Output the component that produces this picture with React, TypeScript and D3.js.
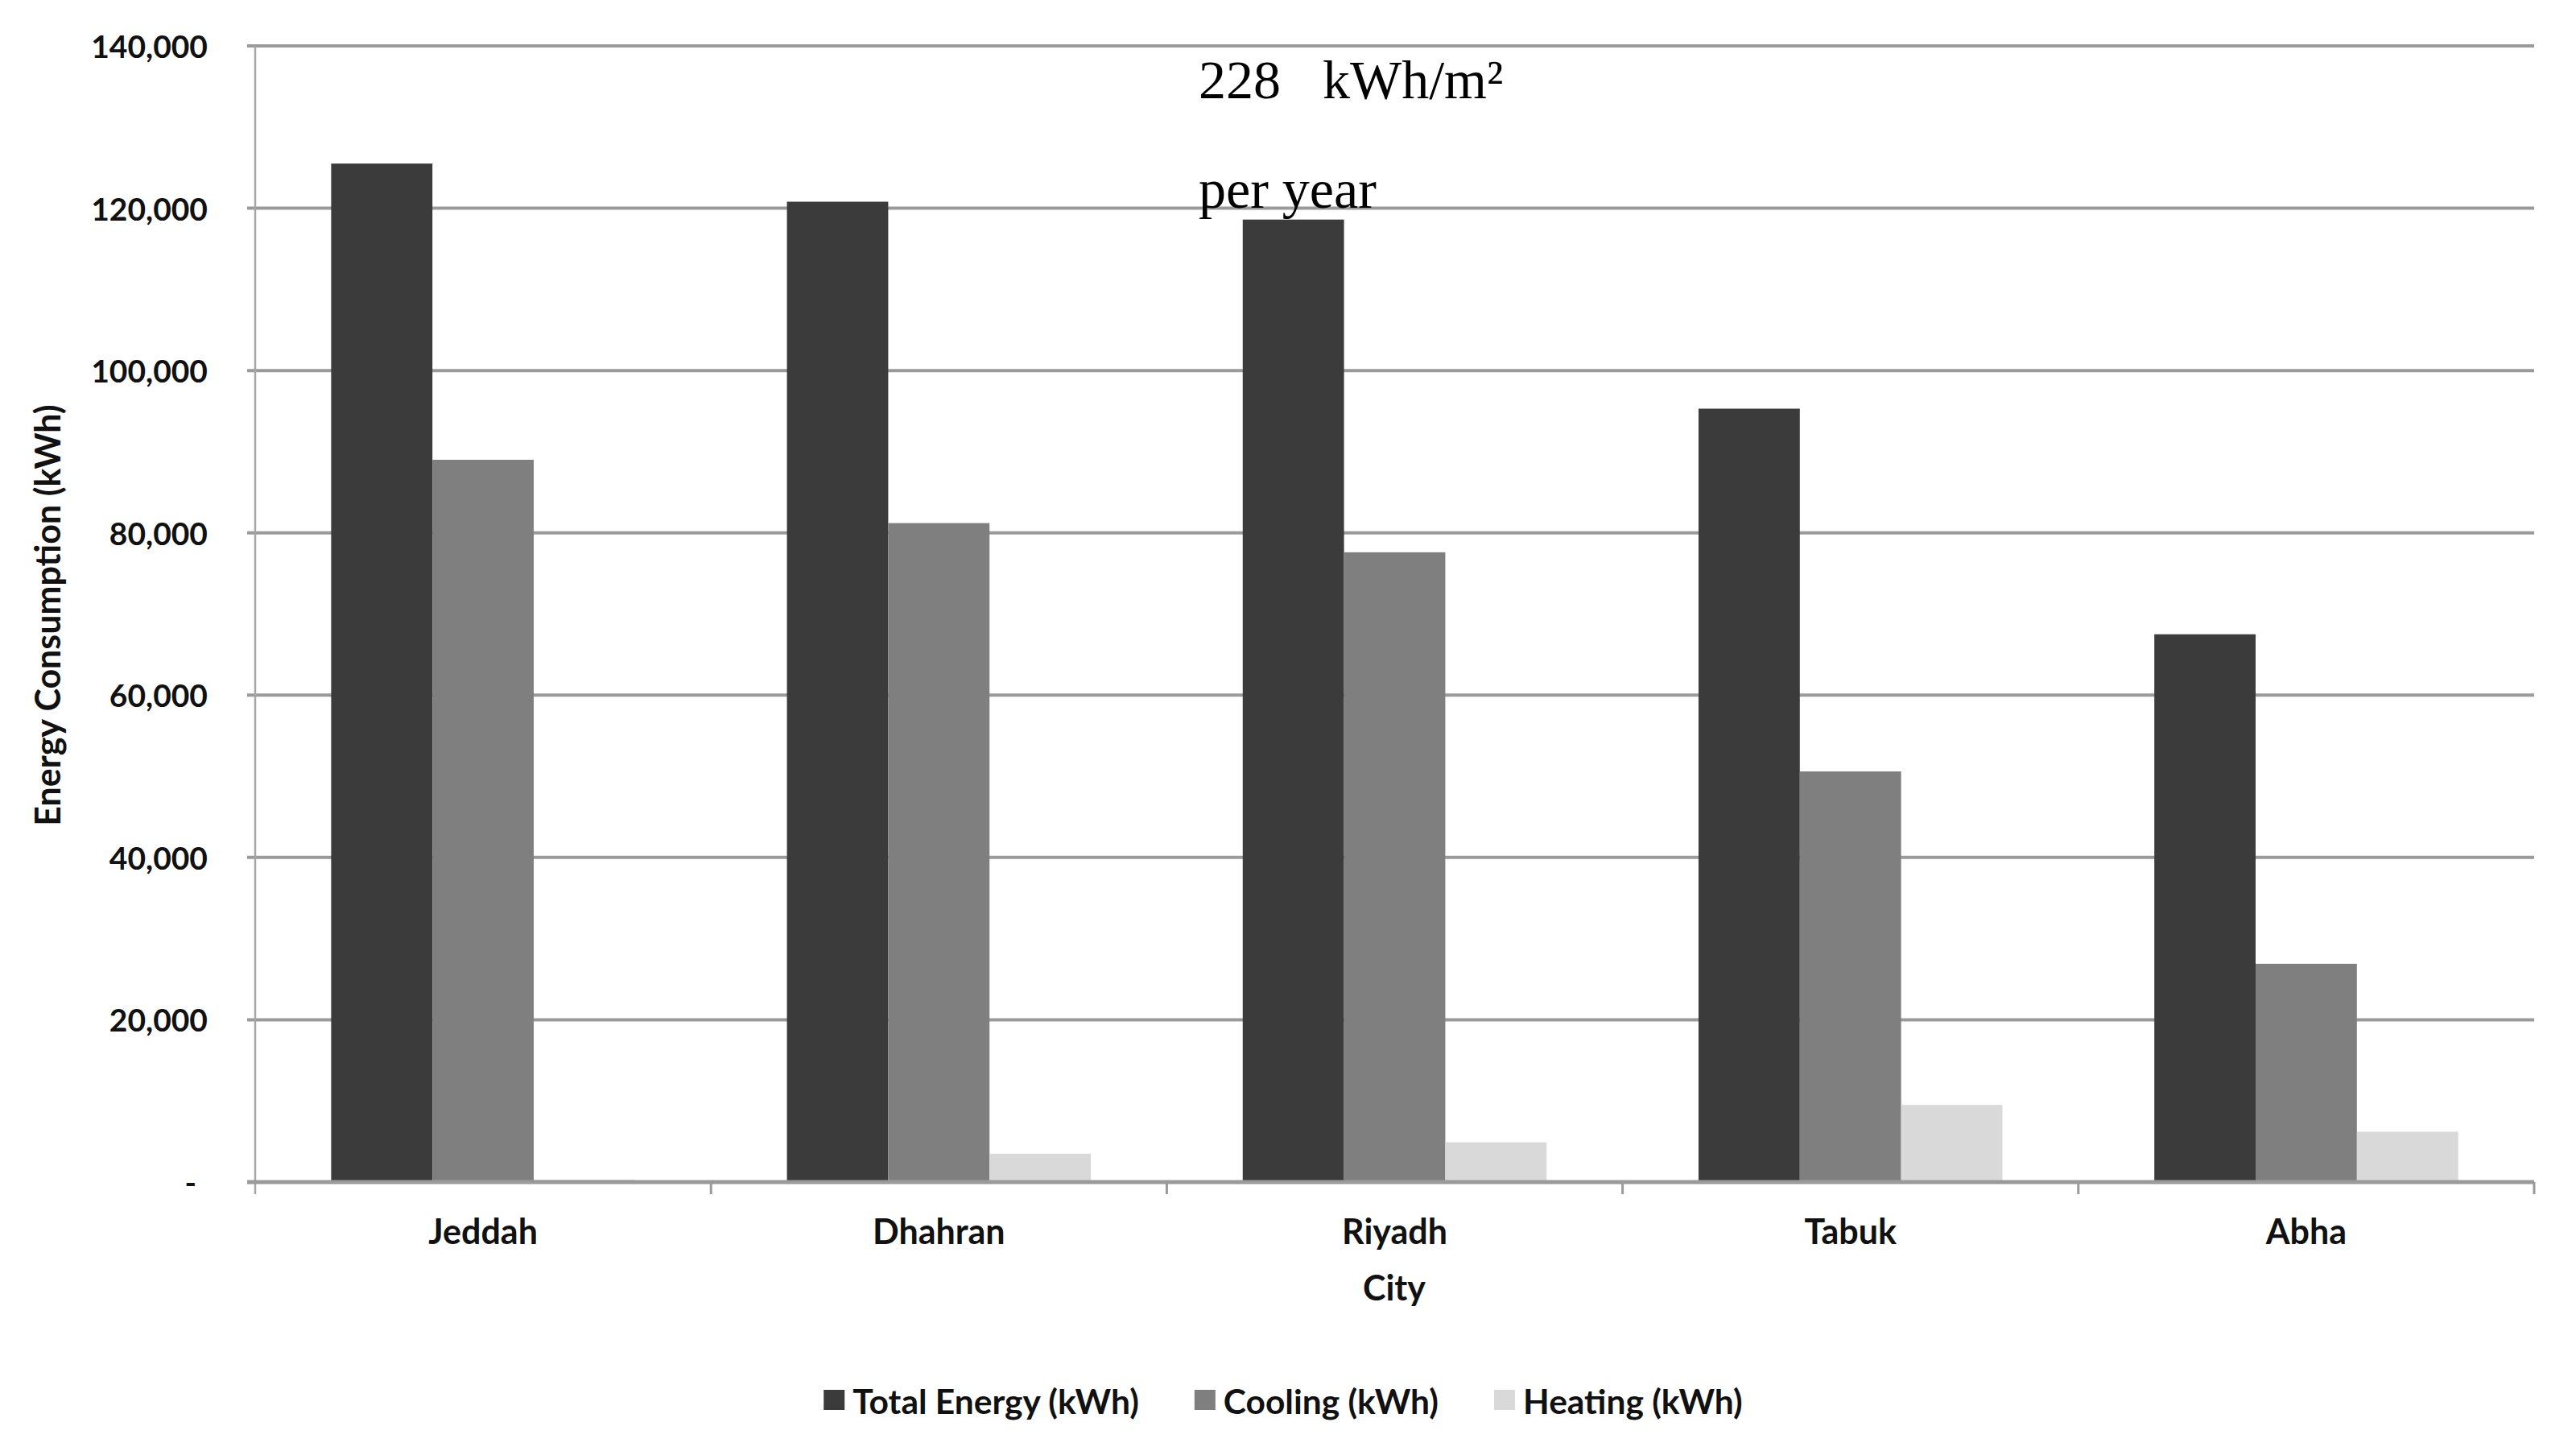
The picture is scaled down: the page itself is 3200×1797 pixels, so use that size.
import { useEffect, useRef } from 'react';
import * as d3 from 'd3';

// chart data (kWh)
const cities = ['Jeddah', 'Dhahran', 'Riyadh', 'Tabuk', 'Abha'];
const totalEnergy = [125500, 120800, 118600, 95300, 67500];
const cooling = [89000, 81200, 77600, 50600, 26900];
const heating = [300, 3500, 4900, 9500, 6200];

const seriesNames = ['Total Energy (kWh)', 'Cooling (kWh)', 'Heating (kWh)'];
const seriesColors = ['#3b3b3b', '#7f7f7f', '#d9d9d9'];
const yTicks = [0, 20000, 40000, 60000, 80000, 100000, 120000, 140000];

const W = 3200;
const H = 1797;
const FONT = 'Lato, "Open Sans", sans-serif';

function Chart() {
  const ref = useRef<SVGSVGElement>(null);

  useEffect(() => {
    if (!ref.current) return;
    document.body.style.margin = '0';

    const svg = d3.select(ref.current);
    svg.selectAll('*').remove();

    const left = 317;
    const right = 3148;
    const top = 57;
    const bottom = 1468;

    const x = d3.scaleBand<string>().domain(cities).range([left, right]);
    const x1 = d3.scaleBand<string>()
      .domain(seriesNames)
      .range([0, x.bandwidth()])
      .paddingInner(0)
      .paddingOuter(0.75);
    const y = d3.scaleLinear().domain([0, 140000]).range([bottom, top]);

    svg.append('rect').attr('width', W).attr('height', H).attr('fill', '#fff');

    // gridlines
    svg.append('g')
      .selectAll('line')
      .data(yTicks.filter(d => d > 0))
      .enter()
      .append('line')
      .attr('x1', left - 10)
      .attr('x2', right)
      .attr('y1', d => y(d))
      .attr('y2', d => y(d))
      .attr('stroke', '#9a9a9a')
      .attr('stroke-width', 4);

    // y tick labels
    svg.append('g')
      .selectAll('text')
      .data(yTicks)
      .enter()
      .append('text')
      .attr('x', d => (d === 0 ? 244 : 258))
      .attr('y', d => y(d) + 15)
      .attr('text-anchor', 'end')
      .attr('font-family', FONT)
      .attr('font-weight', 700)
      .attr('font-size', 39)
      .attr('fill', '#111')
      .text(d => (d === 0 ? '-' : d3.format(',')(d)));

    // bars
    const table = cities.map((c, i) => ({
      city: c,
      values: [totalEnergy[i], cooling[i], heating[i]],
    }));

    const groups = svg.append('g')
      .selectAll('g')
      .data(table)
      .enter()
      .append('g')
      .attr('transform', d => `translate(${x(d.city)},0)`);

    groups.selectAll('rect')
      .data(d => d.values.map((v, j) => ({ name: seriesNames[j], value: v, color: seriesColors[j] })))
      .enter()
      .append('rect')
      .attr('x', d => x1(d.name) || 0)
      .attr('y', d => y(d.value))
      .attr('width', x1.bandwidth())
      .attr('height', d => bottom - y(d.value))
      .attr('fill', d => d.color);

    // axes lines
    svg.append('line')
      .attr('x1', left)
      .attr('x2', left)
      .attr('y1', top)
      .attr('y2', bottom + 15)
      .attr('stroke', '#a6a6a6')
      .attr('stroke-width', 2.5);

    svg.append('line')
      .attr('x1', left - 10)
      .attr('x2', right)
      .attr('y1', bottom)
      .attr('y2', bottom)
      .attr('stroke', '#9a9a9a')
      .attr('stroke-width', 5);

    // category ticks
    const bounds = cities.map(c => (x(c) || 0) + x.bandwidth());
    svg.append('g')
      .selectAll('line')
      .data(bounds)
      .enter()
      .append('line')
      .attr('x1', d => d)
      .attr('x2', d => d)
      .attr('y1', bottom)
      .attr('y2', bottom + 15)
      .attr('stroke', '#9a9a9a')
      .attr('stroke-width', 3);

    // x labels
    svg.append('g')
      .selectAll('text')
      .data(cities)
      .enter()
      .append('text')
      .attr('x', d => (x(d) || 0) + x.bandwidth() / 2)
      .attr('y', 1545)
      .attr('text-anchor', 'middle')
      .attr('font-family', FONT)
      .attr('font-weight', 700)
      .attr('font-size', 43)
      .attr('fill', '#111')
      .text(d => d);

    // axis titles
    svg.append('text')
      .attr('x', 1732)
      .attr('y', 1615)
      .attr('text-anchor', 'middle')
      .attr('font-family', FONT)
      .attr('font-weight', 700)
      .attr('font-size', 43)
      .attr('fill', '#111')
      .text('City');

    svg.append('text')
      .attr('transform', 'translate(75,764) rotate(-90)')
      .attr('text-anchor', 'middle')
      .attr('font-family', FONT)
      .attr('font-weight', 700)
      .attr('font-size', 43)
      .attr('fill', '#111')
      .text('Energy Consumption (kWh)');

    // annotation
    const note = svg.append('g')
      .attr('font-family', '"Liberation Serif", "Times New Roman", serif')
      .attr('font-size', 68)
      .attr('fill', '#000');
    note.append('text').attr('x', 1489).attr('y', 122).text('228');
    note.append('text').attr('x', 1643).attr('y', 122).text('kWh/m²');
    note.append('text').attr('x', 1489).attr('y', 258).text('per year');

    // legend
    const legend = svg.append('g');
    let cx = 0;
    seriesNames.forEach((name, i) => {
      const item = legend.append('g').attr('transform', `translate(${cx},0)`);
      item.append('rect')
        .attr('x', 0)
        .attr('y', 1726)
        .attr('width', 26)
        .attr('height', 25)
        .attr('fill', seriesColors[i]);
      const t = item.append('text')
        .attr('x', 36)
        .attr('y', 1756)
        .attr('font-family', FONT)
        .attr('font-weight', 700)
        .attr('font-size', 42.5)
        .attr('fill', '#111')
        .text(name);
      const w = (t.node() as SVGTextElement).getComputedTextLength();
      cx += 36 + w + 69;
    });
    const total = cx - 69;
    legend.attr('transform', `translate(${1594 - total / 2},0)`);
  }, []);

  return <svg ref={ref} width={W} height={H} style={{ display: 'block' }} />;
}

export default function App() {
  return <Chart />;
}
